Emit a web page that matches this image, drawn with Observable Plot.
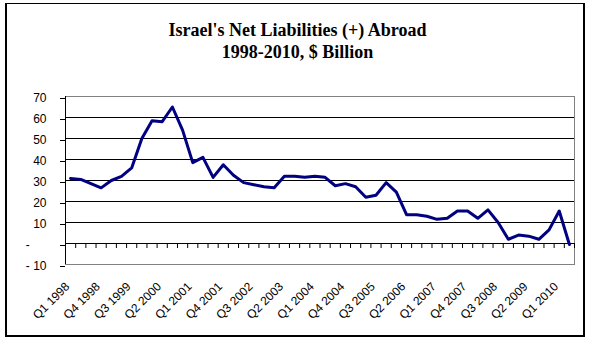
<!DOCTYPE html>
<html>
<head>
<meta charset="utf-8">
<script src="https://cdn.jsdelivr.net/npm/d3@7"></script>
<script src="https://cdn.jsdelivr.net/npm/@observablehq/plot@0.6"></script>
<style>
  html, body { margin: 0; padding: 0; background: #fff; }
  #wrap { position: relative; width: 595px; height: 347px; overflow: hidden; }
  #border { position: absolute; left: 5px; top: 3px; width: 576px; height: 331px;
            border-top: 1px solid #000; border-left: 2px solid #000; border-right: 2px solid #000; border-bottom: 2px solid #000; }
  #title { position: absolute; left: 0; top: 19px; width: 595px; text-align: center;
           font-family: "Liberation Serif", "Times New Roman", serif; font-weight: bold; font-size: 18px; line-height: 22px; color: #000; }
  #chart { position: absolute; left: 0; top: 0; }
</style>
</head>
<body>
<div id="wrap">
  <div id="border"></div>
  <div id="title">Israel's Net Liabilities (+) Abroad<br>1998-2010, $ Billion</div>
  <div id="chart"></div>
</div>
<script>
const quarters = [
  "Q1 1998","Q2 1998","Q3 1998","Q4 1998",
  "Q1 1999","Q2 1999","Q3 1999","Q4 1999",
  "Q1 2000","Q2 2000","Q3 2000","Q4 2000",
  "Q1 2001","Q2 2001","Q3 2001","Q4 2001",
  "Q1 2002","Q2 2002","Q3 2002","Q4 2002",
  "Q1 2003","Q2 2003","Q3 2003","Q4 2003",
  "Q1 2004","Q2 2004","Q3 2004","Q4 2004",
  "Q1 2005","Q2 2005","Q3 2005","Q4 2005",
  "Q1 2006","Q2 2006","Q3 2006","Q4 2006",
  "Q1 2007","Q2 2007","Q3 2007","Q4 2007",
  "Q1 2008","Q2 2008","Q3 2008","Q4 2008",
  "Q1 2009","Q2 2009","Q3 2009","Q4 2009",
  "Q1 2010","Q2 2010"
];
const liabilities = [
  31, 30.5, 28.5, 26.5,
  30, 32, 36, 50,
  58.5, 58, 65, 54,
  38.5, 41, 31.5, 37.5,
  32.5, 29, 28, 27,
  26.5, 32, 32, 31.5,
  32, 31.5, 27.5, 28.5,
  27, 22, 23, 29,
  24.5, 13.7, 13.7, 13,
  11.5, 12, 15.5, 15.5,
  12, 16, 10, 2,
  4, 3.5, 2, 6.5,
  15.5, -0.5
];
const yTicks = [-10, 0, 10, 20, 30, 40, 50, 60, 70];
const xLabelIndex = [0, 3, 6, 9, 12, 15, 18, 21, 24, 27, 30, 33, 36, 39, 42, 45, 48];

const data = quarters.map((q, i) => ({i, q, v: liabilities[i]}));
const boundaries = quarters.map((q, i) => i - 0.5).concat([quarters.length - 0.5]);
const xMin = -0.5, xMax = quarters.length - 0.5;
const yMin = yTicks[0], yMax = yTicks[yTicks.length - 1];
const innerGrid = yTicks.filter(t => t > yMin && t < yMax);

const fmt = v => v === 0 ? "-\u00a0\u00a0\u00a0\u00a0\u00a0" : v < 0 ? "-\u00a0" + Math.abs(v) : String(v);

const chart = Plot.plot({
  width: 595,
  height: 347,
  marginLeft: 65,
  marginRight: 21,
  marginTop: 96,
  marginBottom: 83,
  x: {domain: [xMin, xMax], axis: null, label: null},
  y: {domain: [yMin, yMax], axis: null, label: null},
  style: {background: "transparent", fontFamily: "'Liberation Sans', Arial, sans-serif", fontSize: "12px", color: "#000"},
  marks: [
    Plot.ruleY(innerGrid, {stroke: "#000", strokeWidth: 1}),
    Plot.frame({stroke: "#808080", strokeWidth: 1}),
    Plot.ruleX([xMin], {stroke: "#000", strokeWidth: 1}),
    Plot.ruleX(boundaries, {y1: 0, y2: 0, insetBottom: -5, stroke: "#000", strokeWidth: 1}),
    Plot.axisY({ticks: yTicks, tickSize: 5, tickPadding: 14, tickFormat: fmt, fontSize: 12, dy: 2, label: null}),
    Plot.axisX({ticks: xLabelIndex, tickFormat: i => quarters[i], tickRotate: -45, tickSize: 0, tickPadding: 20, dx: -3, fontSize: 12, label: null}),
    Plot.line(data, {x: "i", y: "v", stroke: "#000080", strokeWidth: 3, strokeLinejoin: "round"})
  ]
});
document.getElementById("chart").appendChild(chart);
</script>
</body>
</html>
